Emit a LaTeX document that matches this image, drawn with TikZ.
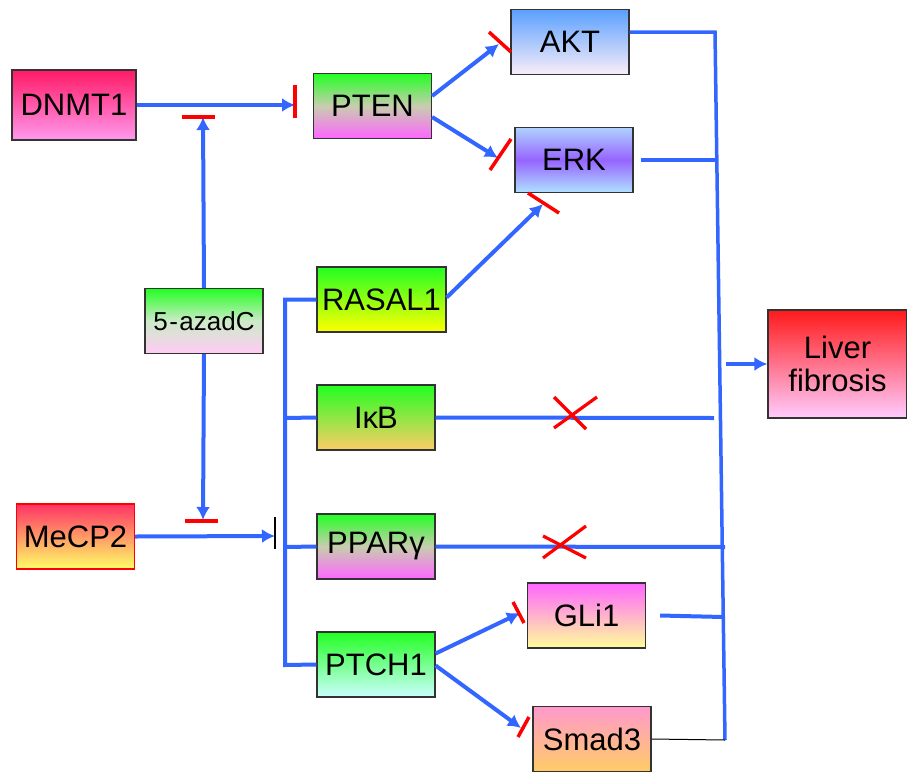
\documentclass[tikz,border=0pt]{standalone}
\usepackage{fontspec}
\setmainfont{Liberation Sans}
\usepackage{xcolor}
\usetikzlibrary{arrows.meta}
\definecolor{linkblue}{RGB}{51,102,255}
\definecolor{boxgreen}{RGB}{34,255,34}
\definecolor{midgrey}{RGB}{200,205,175}

\begin{document}
\begin{tikzpicture}[x=1pt,y=-1pt,
  gene/.style={draw=black!80,line width=1.2pt,inner sep=0pt,minimum width=118pt,minimum height=65pt,font=\fontsize{31}{33}\selectfont},
  act/.style={linkblue,line width=4pt,-{Latex[length=13pt,width=14pt]}},
  link/.style={linkblue,line width=4pt},
  blockbar/.style={red,line width=3.5pt},
  cross/.style={red,line width=3.2pt}]
  \useasboundingbox (0,0) rectangle (907,771);

  % genes
  \node[gene,minimum width=124pt,minimum height=70pt,line width=2pt,top color={rgb,255:red,255;green,26;blue,102},bottom color={rgb,255:red,255;green,153;blue,238}] (dnmt) at (74,105) {DNMT1};
  \node[gene,top color=boxgreen,bottom color={rgb,255:red,255;green,102;blue,255},middle color=midgrey] (pten) at (372.5,106) {PTEN};
  \node[gene,top color={rgb,255:red,90;green,160;blue,255},bottom color={rgb,255:red,250;green,238;blue,248}] (akt) at (570,42) {AKT};
  \node[gene,top color={rgb,255:red,175;green,210;blue,255},bottom color={rgb,255:red,175;green,225;blue,255},middle color={rgb,255:red,150;green,100;blue,255}] (erk) at (574,160) {ERK};
  \node[gene,font=\fontsize{26}{28}\selectfont,top color=boxgreen,bottom color={rgb,255:red,255;green,204;blue,245},middle color={rgb,255:red,205;green,235;blue,200}] (aza) at (204,321) {5\kern1.5pt-\kern1.5pt azadC};
  \node[gene,draw=red,top color={rgb,255:red,255;green,51;blue,102},bottom color={rgb,255:red,255;green,255;blue,102}] (mecp) at (75.5,536.5) {MeCP2};
  \node[gene,minimum width=129pt,top color=boxgreen,bottom color={rgb,255:red,255;green,255;blue,0}] (rasal) at (381.5,299.5) {RASAL1};
  \node[gene,top color=boxgreen,bottom color={rgb,255:red,255;green,204;blue,102}] (ikb) at (376,417.5) {Iκ\kern-1pt B};
  \node[gene,top color=boxgreen,bottom color={rgb,255:red,255;green,102;blue,255},middle color=midgrey] (ppar) at (376,546.5) {PPARγ};
  \node[gene,top color=boxgreen,bottom color={rgb,255:red,204;green,255;blue,255}] (ptch) at (376,664.5) {PTCH1};
  \node[gene,top color={rgb,255:red,255;green,102;blue,255},bottom color={rgb,255:red,255;green,255;blue,153}] (gli) at (586.5,615.5) {GLi1};
  \node[gene,top color={rgb,255:red,255;green,153;blue,204},bottom color={rgb,255:red,255;green,204;blue,102}] (smad) at (592,739) {Smad3};
  \node[gene,minimum width=139pt,minimum height=108pt,align=center,top color={rgb,255:red,255;green,26;blue,26},bottom color={rgb,255:red,255;green,204;blue,255}] (liver) at (837.5,364) {Liver\\fibrosis};

  % free ends
  \coordinate (ptenin) at (295,105);
  \coordinate (azaup) at (203,117);
  \coordinate (azadown) at (203,520);
  \coordinate (mecpend) at (275,536);
  \coordinate (trunktop) at (285,300);
  \coordinate (trunkbot) at (285,665);
  \coordinate (akttip) at (499,44);
  \coordinate (erktip) at (498,158);
  \coordinate (erkbot) at (543,204);
  \coordinate (glitip) at (520,613);
  \coordinate (smadtip) at (521,728);
  \coordinate (bustop) at (715,32);
  \coordinate (busbot) at (725,740);

  % left side
  \draw[act] (dnmt.east) -- (ptenin);
  \draw[blockbar] (295,85) -- (295,118);
  \draw[act] (aza.north) -- (azaup);
  \draw[blockbar] (182,117) -- (215,117);
  \draw[act] (aza.south) -- (azadown);
  \draw[blockbar] (185,521) -- (218,521);
  \draw[act] (mecp.east) -- (mecpend);
  \draw[black,line width=1.5pt] (275,517) -- (275,549);

  % trunk to targets
  \draw[link] (rasal.west) -| (trunktop) -- (trunkbot) -- (ptch.west);
  \draw[link] (285,418) -- (ikb.west);
  \draw[link] (285,547) -- (ppar.west);

  % PTEN, RASAL1, PTCH1 outputs
  \draw[act] ([yshift=10pt]pten.east) -- (akttip);
  \draw[blockbar] (489,32) -- (511,52);
  \draw[act] ([yshift=-11pt]pten.east) -- (erktip);
  \draw[blockbar] (490,170) -- (511,139);
  \draw[act] ([yshift=2pt]rasal.east) -- (erkbot);
  \draw[blockbar] (528,193) -- (559,213);
  \draw[act] ([yshift=11pt]ptch.east) -- (glitip);
  \draw[blockbar] (513,602) -- (524,623);
  \draw[act] ([yshift=-1pt]ptch.east) -- (smadtip);
  \draw[blockbar] (518,737) -- (529,717);

  % right bus
  \draw[link,line width=3.5pt] (akt.east|-bustop) -- (bustop) -- (busbot);
  \draw[link,line width=3.5pt] ([xshift=7pt]erk.east) -- (715,160);
  \draw[link] (ikb.east) -- (714,418);
  \draw[link] (ppar.east) -- (725,547);
  \draw[link] ([xshift=14pt]gli.east) -- (723,617);
  \draw[black,line width=1pt] (smad.east) -- (busbot);
  \draw[act] (726,364) -- (liver.west);

  % blocked links
  \draw[cross] (554,397) -- (586,429) (597,397) -- (554,428);
  \draw[cross] (543,536) -- (586,558) (586,526) -- (543,558);
\end{tikzpicture}
\end{document}
